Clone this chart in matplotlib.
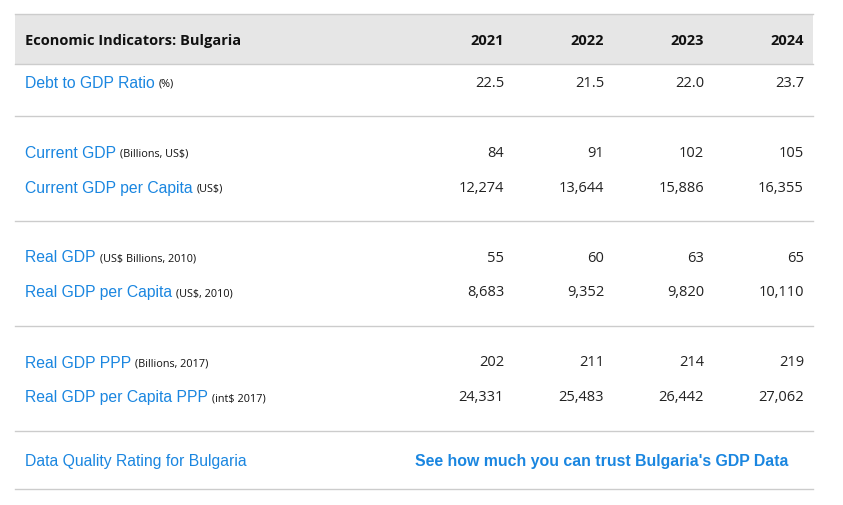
import matplotlib.pyplot as plt
from matplotlib.patches import Rectangle

years = ["2021", "2022", "2023", "2024"]
labels = ["Debt to GDP Ratio", "Current GDP", "Current GDP per Capita", "Real GDP",
          "Real GDP per Capita", "Real GDP PPP", "Real GDP per Capita PPP"]
units = ["(%)", "(Billions, US$)", "(US$)", "(US$ Billions, 2010)", "(US$, 2010)",
         "(Billions, 2017)", "(int$ 2017)"]
values = [
    ["22.5", "21.5", "22.0", "23.7"],
    ["84", "91", "102", "105"],
    ["12,274", "13,644", "15,886", "16,355"],
    ["55", "60", "63", "65"],
    ["8,683", "9,352", "9,820", "10,110"],
    ["202", "211", "214", "219"],
    ["24,331", "25,483", "26,442", "27,062"],
]
row_y = [83, 153, 188, 258, 293, 363, 398]
sep_y = [117, 222, 327, 432, 490]
col_x = [504, 604, 704, 804]

W, H = 843, 506
BLUE = "#1a86e0"
fig = plt.figure(figsize=(W / 100, H / 100), dpi=100)
ax = fig.add_axes([0, 0, 1, 1])
ax.set_xlim(0, W)
ax.set_ylim(H, 0)
ax.axis("off")
plt.rcParams["font.family"] = "Open Sans"

# -- header
ax.add_patch(Rectangle((15, 15), 798, 50, facecolor="#e6e6e6", edgecolor="none"))
ax.plot([15, 813], [15, 15], color="#cccccc", lw=1)
ax.plot([15, 813], [65, 65], color="#cccccc", lw=1)
ax.text(25, 41, "Economic Indicators: Bulgaria", fontsize=10.5, fontweight="bold",
        va="center", color="#111111")
for x, yr in zip(col_x, years):
    ax.text(x, 41, yr, fontsize=10.5, fontweight="bold", ha="right", va="center", color="#111111")

for y in sep_y:
    ax.plot([15, 813], [y, y], color="#cccccc", lw=1)

fig.canvas.draw()
r = fig.canvas.get_renderer()
for lab, unit, vals, y in zip(labels, units, values, row_y):
    t = ax.text(25, y, lab, fontsize=11.3, color=BLUE, va="center", family="Liberation Sans")
    bb = t.get_window_extent(renderer=r)
    ax.text(bb.x1 + 4, y + 1, unit, fontsize=7.8, color="#111111", va="center")
    for x, v in zip(col_x, vals):
        ax.text(x, y, v, fontsize=10.5, ha="right", va="center", color="#222222")

ax.text(25, 462, "Data Quality Rating for Bulgaria", fontsize=11.3, color=BLUE, va="center",
        family="Liberation Sans")
ax.text(415, 462, "See how much you can trust Bulgaria's GDP Data", fontsize=11.4,
        fontweight="bold", color=BLUE, va="center", family="Liberation Sans")

fig.savefig("out.png", dpi=100)
